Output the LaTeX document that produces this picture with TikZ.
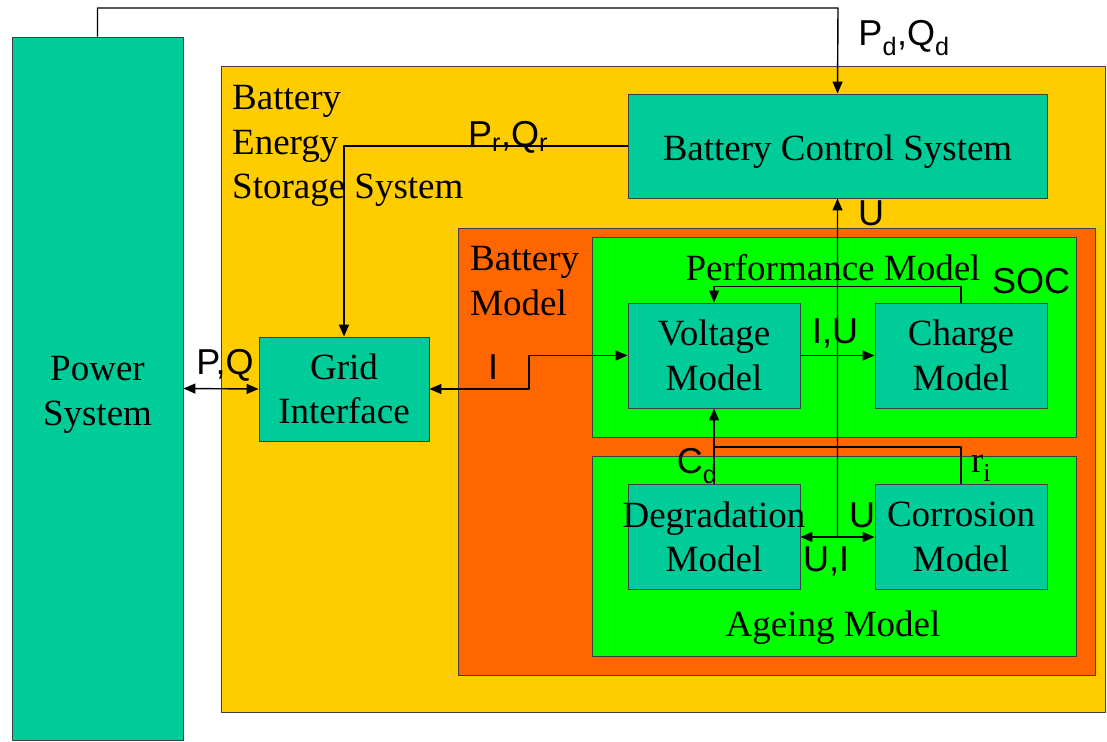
\documentclass[tikz,border=0pt]{standalone}
\usepackage{fontspec}
\setmainfont{Liberation Serif}
\setsansfont{Liberation Sans}
\usetikzlibrary{arrows.meta,calc}
\definecolor{tealbox}{HTML}{00CC99}
\definecolor{bessyellow}{HTML}{FFCC00}
\definecolor{modelorange}{HTML}{FF6600}
\definecolor{subgreen}{HTML}{00FF00}
\tikzset{
  frame/.style={draw=black!75, line width=0.9pt, inner sep=0pt},
  block/.style={frame, fill=tealbox, align=center, minimum width=172, minimum height=105},
  lbl/.style={font=\sffamily\fontsize{36}{40}\selectfont, inner sep=0pt},
  txt/.style={inner sep=0pt, align=left},
  link/.style={line width=1.4pt},
}
\begin{document}
\begin{tikzpicture}[x=1pt, y=-1pt, font=\fontsize{37}{44.5}\selectfont, line join=round, >={Triangle[length=12pt,width=10pt]}]
\useasboundingbox (0,0) rectangle (1107,741);
\fill[white] (0,0) rectangle (1107,741);
% containers
\node[frame, fill=bessyellow, minimum width=884, minimum height=646] (bess) at (663,389) {};
\node[frame, fill=tealbox, minimum width=171, minimum height=703] (power) at (97.5,388.5) {};
\node[align=center] (powertext) at (97.5,395) {Power\\System};
\node[frame, fill=modelorange, minimum width=637, minimum height=447] (batmodel) at (776.5,451.5) {};
\node[frame, fill=subgreen, minimum width=484, minimum height=200] (perf) at (834,337) {};
\node[frame, fill=subgreen, minimum width=484, minimum height=200] (ageing) at (834,556) {};
% blocks
\node[block, minimum width=419, minimum height=104] (bcs) at (837.5,146) {\raisebox{-6pt}[\height][\depth]{Battery Control System}};
\node[block, minimum width=170, minimum height=104] (grid) at (344,389) {Grid\\Interface};
\node[block] (volt) at (714,355.5) {Voltage\\Model};
\node[block] (charge) at (961,355.5) {Charge\\Model};
\node[block] (degr) at (714,537) {\makebox[0pt]{Degradation}\\Model};
\node[block] (corr) at (961,537) {Corrosion\\Model};
% texts
\node[txt, anchor=west] (besstext) at (232,146) {Battery\\Energy\\Storage System};
\node[txt, anchor=west] (battext) at (470,281) {Battery\\Model};
\node[txt] (perftext) at (833,268) {Performance Model};
\node[txt] (ageingtext) at (833,628) {Ageing Model};
\node[lbl] (soc) at (1031,281) {SOC};
\node[lbl] (pdqd) at (904,38) {P\textsubscript{d},Q\textsubscript{d}};
\node[lbl] (prqr) at (508,137) {P\textsubscript{r},Q\textsubscript{r}};
\node[lbl] (pq) at (225,365) {P,Q};
\node[lbl] (ilbl) at (493,367) {I};
\node[lbl] (iulbl) at (835,333) {I,U};
\node[lbl] (ubcs) at (871,213) {U};
\node[lbl] (ucorr) at (862,515) {U};
\node[lbl] (uilbl) at (826,561) {U,I};
\node[lbl] (cd) at (697,466) {C\textsubscript{d}};
\node[txt] (ri) at (981,468) {r\textsubscript{i}};
% connectors
\coordinate (ctop) at (838,8);
\coordinate (ibend) at (529,389);
\coordinate (rjoin) at (714,447);
\coordinate (umid) at ($(degr.east)!.5!(corr.west)$);
\draw[link, ->] (power.north) |- (ctop) -- (bcs.north);
\draw[link, ->] (bcs.west) -| (grid.north);
\draw[link, <->] (power.east) -- (grid.west);
\draw[link, <->] (grid.east) -- (ibend) |- (volt.west);
\draw[link, ->] (volt.east) -- (charge.west);
\draw[link, ->] (charge.north) -- ++(0,-16) -| (volt.north);
\draw[link, <->] (degr.east) -- (corr.west);
\draw[link, ->] (umid) -- (bcs.south);
\draw[link, ->] (degr.north) -- (volt.south);
\draw[link] (corr.north) |- (rjoin);
\end{tikzpicture}
\end{document}
